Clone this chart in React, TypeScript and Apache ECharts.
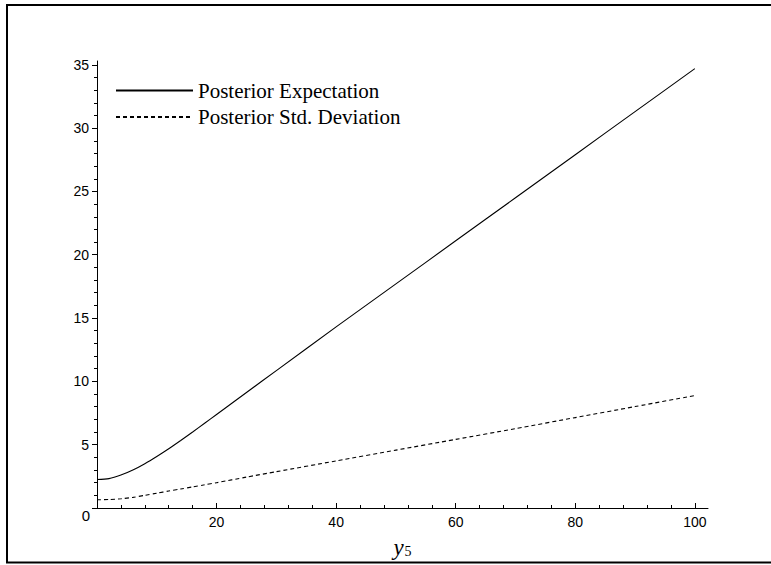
import React, { useEffect, useRef } from 'react';
import * as echarts from 'echarts';

const xValues = [0, 2, 4, 6, 8, 10, 12, 14, 16, 18, 20, 25, 30, 40, 50, 60, 70, 80, 90, 100];
const posteriorExpectation = [2.25, 2.32, 2.6, 3.0, 3.5, 4.07, 4.68, 5.33, 6.0, 6.69, 7.38, 9.12, 10.85, 14.3, 17.7, 21.1, 24.5, 27.9, 31.3, 34.7];
const posteriorStdDev = [0.65, 0.67, 0.73, 0.84, 1.0, 1.17, 1.34, 1.5, 1.67, 1.83, 2.0, 2.44, 2.87, 3.72, 4.57, 5.42, 6.27, 7.14, 8.01, 8.88];
const seriesNames = ['Posterior Expectation', 'Posterior Std. Deviation'];

const xMajorTicks = [0, 20, 40, 60, 80, 100];
const xTickLabels = [20, 40, 60, 80, 100];
const xMinorTicks = [4, 8, 12, 16, 24, 28, 32, 36, 44, 48, 52, 56, 64, 68, 72, 76, 84, 88, 92, 96];
const yMajorTicks = [0, 5, 10, 15, 20, 25, 30, 35];
const yTickLabels = [5, 10, 15, 20, 25, 30, 35];
const yMinorTicks = [1, 2, 3, 4, 6, 7, 8, 9, 11, 12, 13, 14, 16, 17, 18, 19, 21, 22, 23, 24, 26, 27, 28, 29, 31, 32, 33, 34];
const xMin = 0;
const xMax = 102.2;
const yMin = 0;
const yMax = 35.3;

const labelFont = 'Liberation Sans, Arial, sans-serif';
const serifFont = 'Liberation Serif, Times New Roman, serif';

export default function App() {
  const ref = useRef<HTMLDivElement>(null);
  useEffect(() => {
    if (!ref.current) return;
    const chart = echarts.init(ref.current, null, { renderer: 'svg' });
    const gridRect = { left: 97, top: 61, right: 63, bottom: 57 };
    const option: any = {
      animation: false,
      backgroundColor: '#fff',
      grid: [
        { ...gridRect },
        { ...gridRect },
      ],
      legend: {
        orient: 'vertical',
        left: 110,
        top: 75,
        itemWidth: 77,
        itemHeight: 14,
        itemGap: 5.5,
        data: seriesNames,
        itemStyle: { opacity: 0 },
        textStyle: { fontFamily: serifFont, fontSize: 21, color: '#000' },
      },
      xAxis: [
        {
          type: 'value',
          gridIndex: 0,
          min: xMin,
          max: xMax,
          interval: 20,
          splitLine: { show: false },
          axisLine: { show: true, onZero: false, lineStyle: { color: '#000', width: 1 } },
          axisTick: { show: true, inside: true, length: 5, customValues: xMajorTicks, lineStyle: { color: '#000' } },
          axisLabel: {
            customValues: xTickLabels,
            margin: 7,
            color: '#000',
            fontFamily: labelFont,
            fontSize: 14,
          },
          name: '{y|y}{s|5}',
          nameLocation: 'middle',
          nameGap: 28,
          nameTextStyle: {
            color: '#000',
            rich: {
              y: { fontFamily: serifFont, fontStyle: 'italic', fontSize: 23, color: '#000' },
              s: { fontFamily: serifFont, fontSize: 14, color: '#000', padding: [8, 0, 0, 1] },
            },
          },
        },
        {
          type: 'value',
          gridIndex: 1,
          min: xMin,
          max: xMax,
          interval: 20,
          splitLine: { show: false },
          axisLine: { show: false, onZero: false },
          axisLabel: { show: false },
          axisTick: { show: true, inside: true, length: 3, customValues: xMinorTicks, lineStyle: { color: '#000' } },
        },
      ],
      yAxis: [
        {
          type: 'value',
          gridIndex: 0,
          min: yMin,
          max: yMax,
          interval: 5,
          splitLine: { show: false },
          axisLine: { show: true, onZero: false, lineStyle: { color: '#000', width: 1 } },
          axisTick: { show: true, inside: false, length: 5, customValues: yMajorTicks, lineStyle: { color: '#000' } },
          axisLabel: {
            customValues: yTickLabels,
            margin: 8,
            color: '#000',
            fontFamily: labelFont,
            fontSize: 14,
          },
        },
        {
          type: 'value',
          gridIndex: 1,
          min: yMin,
          max: yMax,
          interval: 5,
          splitLine: { show: false },
          axisLine: { show: false, onZero: false },
          axisLabel: { show: false },
          axisTick: { show: true, inside: false, length: 3, customValues: yMinorTicks, lineStyle: { color: '#000' } },
        },
      ],
      series: [
        {
          name: seriesNames[0],
          type: 'line',
          xAxisIndex: 0,
          yAxisIndex: 0,
          data: xValues.map((x, i) => [x, posteriorExpectation[i]]),
          showSymbol: false,
          symbol: 'none',
          smooth: 0.25,
          color: '#000',
          lineStyle: { color: '#000', width: 1.1, type: 'solid' },
        },
        {
          name: seriesNames[1],
          type: 'line',
          xAxisIndex: 0,
          yAxisIndex: 0,
          data: xValues.map((x, i) => [x, posteriorStdDev[i]]),
          showSymbol: false,
          symbol: 'none',
          smooth: 0.25,
          color: '#000',
          lineStyle: { color: '#000', width: 1.1, type: [4, 3] },
        },
      ],
      graphic: [
        {
          type: 'rect',
          shape: { x: 7, y: 5, width: 800, height: 557.5 },
          style: { fill: 'none', stroke: '#000', lineWidth: 2 },
          silent: true,
        },
        {
          type: 'text',
          x: 86,
          y: 515,
          style: {
            text: '0',
            fontFamily: labelFont,
            fontSize: 15,
            fill: '#000',
            align: 'center',
            verticalAlign: 'middle',
          },
        },
      ],
    };
    chart.setOption(option);
    return () => chart.dispose();
  }, []);
  return <div ref={ref} style={{ position: 'fixed', left: 0, top: 0, width: 771, height: 565 }} />;
}
